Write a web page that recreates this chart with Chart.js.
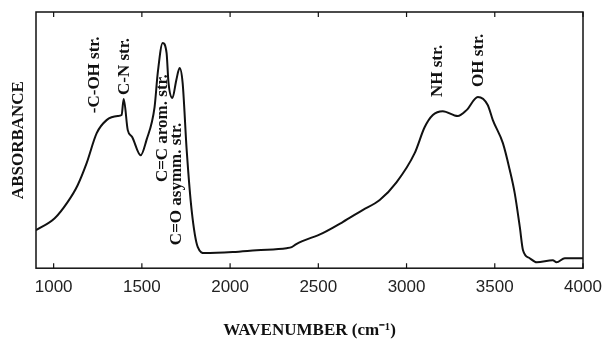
<!DOCTYPE html>
<html>
<head>
<meta charset="utf-8">
<script src="https://cdn.jsdelivr.net/npm/chart.js@4/dist/chart.umd.min.js"></script>
<style>
  html, body { margin: 0; padding: 0; background: #fff; }
  #wrap { width: 604px; height: 341px; }
</style>
</head>
<body>
<div id="wrap"><canvas id="ftir"></canvas></div>
<script>
// ---- data -------------------------------------------------------------------

const wavenumbers = [
  900, 1006, 1079, 1136, 1187, 1244, 1300, 1363, 1385, 1397, 1420, 1445,
  1493, 1526, 1572, 1590, 1618, 1640, 1651, 1673, 1695, 1714, 1731, 1754,
  1782, 1817, 1856, 2015, 2150, 2320, 2349, 2375, 2525, 2638, 2751, 2848,
  2944, 3046, 3103, 3149, 3205, 3290, 3340, 3404, 3460, 3489, 3546, 3585,
  3613, 3642, 3660, 3698, 3738, 3829, 3850, 3897, 4000
];

const absorbance = [
  0.148, 0.195, 0.258, 0.324, 0.410, 0.527, 0.578, 0.594, 0.598, 0.660, 0.539, 0.512,
  0.441, 0.500, 0.629, 0.762, 0.879, 0.840, 0.723, 0.664, 0.734, 0.781, 0.723, 0.461,
  0.227, 0.082, 0.059, 0.063, 0.070, 0.078, 0.082, 0.094, 0.137, 0.180, 0.227, 0.266,
  0.336, 0.449, 0.551, 0.598, 0.613, 0.594, 0.617, 0.668, 0.637, 0.578, 0.488, 0.383,
  0.293, 0.160, 0.070, 0.039, 0.023, 0.031, 0.023, 0.039, 0.039
];

const xTicks = [1000, 1500, 2000, 2500, 3000, 3500, 4000];

// band assignments: text, wavenumber, absorbance where the text starts
const bandLabels  = ['-C-OH str.', 'C-N str.', 'C=C arom. str.', 'C=O asymm. str.', 'NH str.', 'OH str.'];
const bandWaves   = [1232, 1402, 1618, 1697, 3177, 3409];
const bandLevels  = [0.605, 0.676, 0.336, 0.090, 0.668, 0.707];

// ---- drawing helpers --------------------------------------------------------

const SERIF_BOLD = 'bold 17px "Liberation Serif", "Times New Roman", serif';

const framePlugin = {
  id: 'frame',
  afterDraw(chart) {
    const { ctx, chartArea: a, scales } = chart;
    ctx.save();
    ctx.strokeStyle = '#111';
    ctx.lineWidth = 1.5;
    ctx.strokeRect(a.left, a.top, a.right - a.left, a.bottom - a.top);

    // inward tick marks, top and bottom
    ctx.lineWidth = 1.2;
    scales.x.ticks.forEach(t => {
      const px = scales.x.getPixelForValue(t.value);
      ctx.beginPath();
      ctx.moveTo(px, a.bottom);
      ctx.lineTo(px, a.bottom - 5);
      ctx.moveTo(px, a.top);
      ctx.lineTo(px, a.top + 5);
      ctx.stroke();
    });

    // y axis title
    ctx.fillStyle = '#111';
    ctx.font = SERIF_BOLD;
    ctx.textAlign = 'center';
    ctx.textBaseline = 'middle';
    ctx.translate(19, (a.top + a.bottom) / 2);
    ctx.rotate(-Math.PI / 2);
    ctx.fillText('ABSORBANCE', 0, 0);
    ctx.restore();
  }
};

const bandPlugin = {
  id: 'bands',
  afterDatasetsDraw(chart) {
    const { ctx, scales } = chart;
    ctx.save();
    ctx.fillStyle = '#111';
    ctx.font = SERIF_BOLD;
    ctx.textAlign = 'left';
    ctx.textBaseline = 'middle';
    bandLabels.forEach((txt, i) => {
      const px = scales.x.getPixelForValue(bandWaves[i]);
      const py = scales.y.getPixelForValue(bandLevels[i]);
      ctx.save();
      ctx.translate(px, py);
      ctx.rotate(-Math.PI / 2);
      ctx.fillText(txt, 0, 0);
      ctx.restore();
    });
    ctx.restore();
  }
};

// ---- chart ------------------------------------------------------------------

new Chart(document.getElementById('ftir'), {
  type: 'line',
  data: {
    datasets: [{
      data: wavenumbers.map((w, i) => ({ x: w, y: absorbance[i] })),
      borderColor: '#111',
      borderWidth: 2,
      pointRadius: 0,
      fill: false,
      cubicInterpolationMode: 'monotone'
    }]
  },
  options: {
    responsive: true,
    maintainAspectRatio: false,
    animation: false,
    layout: { padding: { left: 36, right: 21, top: 12, bottom: 0 } },
    plugins: { legend: { display: false }, tooltip: { enabled: false } },
    scales: {
      x: {
        type: 'linear',
        min: 900,
        max: 4000,
        afterBuildTicks: s => { s.ticks = xTicks.map(v => ({ value: v })); },
        // let the "4000" label hang past the frame like the original
        afterFit: s => { s.paddingRight = 0; s.paddingLeft = 0; },
        grid: { display: false, drawTicks: false },
        border: { display: false },
        ticks: {
          padding: 9,
          color: '#222',
          font: { family: '"Liberation Sans", Arial, sans-serif', size: 17 },
          maxRotation: 0,
          callback: v => String(v)
        },
        title: {
          display: true,
          text: 'WAVENUMBER (cm\u207B\u00B9)',
          color: '#111',
          font: { family: '"Liberation Serif", "Times New Roman", serif', size: 17, weight: 'bold' },
          padding: { top: 14, bottom: 0 }
        }
      },
      y: {
        display: false,
        min: 0,
        max: 1
      }
    }
  },
  plugins: [framePlugin, bandPlugin]
});
</script>
</body>
</html>
